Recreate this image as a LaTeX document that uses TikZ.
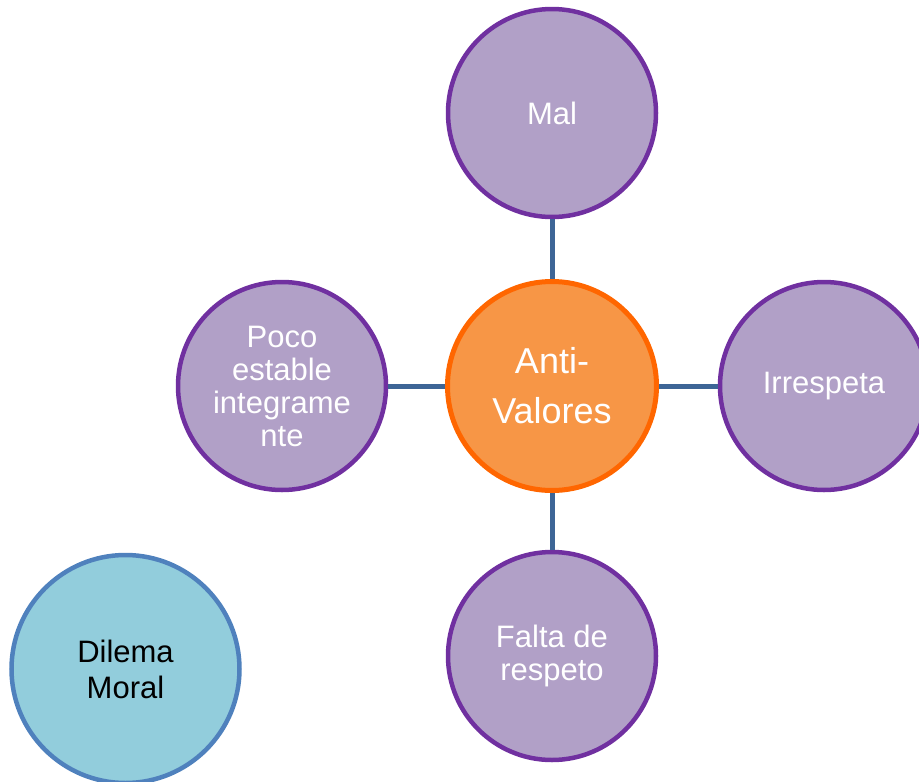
\documentclass[tikz,border=0pt]{standalone}
\usepackage{fontspec}
\setmainfont{Liberation Sans}
\definecolor{hubfill}{HTML}{F79646}
\definecolor{hubline}{HTML}{FF6600}
\definecolor{leaffill}{HTML}{B1A0C7}
\definecolor{leafline}{HTML}{7030A0}
\definecolor{notefill}{HTML}{92CDDC}
\definecolor{noteline}{HTML}{4F81BD}
\definecolor{linkblue}{HTML}{3D6596}
\tikzset{
  hub/.style={circle,fill=hubfill,draw=hubline,line width=5pt,minimum size=209pt,
    inner sep=0pt,align=center,text=white,font=\fontsize{36}{50}\selectfont},
  leaf/.style={circle,fill=leaffill,draw=leafline,line width=4.5pt,minimum size=208pt,
    inner sep=0pt,align=center,text=white,font=\fontsize{31}{33}\selectfont},
  note/.style={circle,fill=notefill,draw=noteline,line width=4.5pt,minimum size=228pt,
    inner sep=0pt,align=center,text=black,font=\fontsize{31}{36}\selectfont},
  link/.style={draw=linkblue,line width=5pt}}

\begin{document}
\begin{tikzpicture}[x=1pt,y=-1pt]
\clip (0,0) rectangle (919,782);
\node[hub] (anti) at (552,386) {Anti-\\Valores};
\node[leaf] (mal) at (552,113) {Mal};
\node[leaf] (irrespeta) at (824,386) {Irrespeta};
\node[leaf] (poco) at (282,386) {Poco\\estable\\integrame\\nte};
\node[leaf] (falta) at (552,656) {Falta de\\respeto};
\node[note] (dilema) at (125.5,669) {Dilema\\Moral};
\draw[link] (anti) -- (mal);
\draw[link] (anti) -- (irrespeta);
\draw[link] (anti) -- (poco);
\draw[link] (anti) -- (falta);
\end{tikzpicture}
\end{document}
